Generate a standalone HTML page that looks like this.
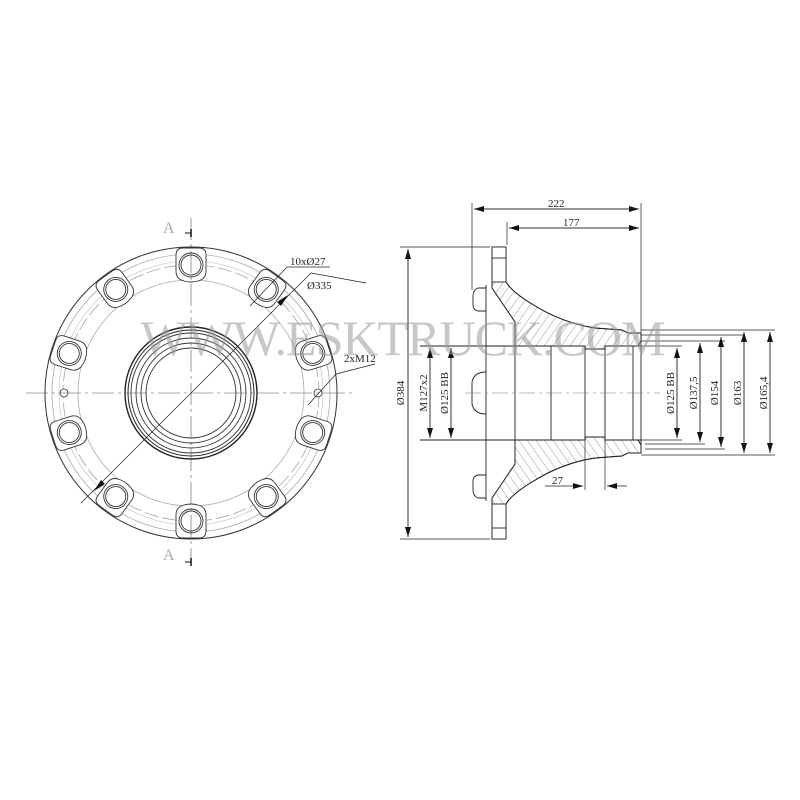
<!DOCTYPE html>
<html><head><meta charset="utf-8"><style>
html,body{margin:0;padding:0;background:#fff;}
svg{display:block;}
text{font-family:"Liberation Serif",serif;fill:#222;}
</style></head><body>
<svg width="800" height="800" viewBox="0 0 800 800" xmlns="http://www.w3.org/2000/svg">
<defs>
<pattern id="h" width="7" height="7" patternUnits="userSpaceOnUse" patternTransform="rotate(35)">
<line x1="0" y1="0" x2="0" y2="7" stroke="#555" stroke-width="0.6"/>
</pattern>
<marker id="a" markerWidth="10" markerHeight="6" refX="10" refY="3" orient="auto" markerUnits="userSpaceOnUse"><path d="M0,0 L10,3 L0,6 Z" fill="#111"/></marker>
<g id="boss">
<path d="M-15,-10 Q-15,-17 -8,-17 H8 Q15,-17 15,-10 V6 Q15,14 7,16 Q0,18 -7,16 Q-15,14 -15,6 Z" fill="#fff" stroke="#333" stroke-width="0.9"/>
<circle r="12" fill="none" stroke="#333" stroke-width="0.9"/>
<circle r="10" fill="none" stroke="#333" stroke-width="0.9"/>
</g>
</defs>

<!-- LEFT VIEW -->
<g transform="translate(191,393)">
<circle r="146" fill="none" stroke="#333" stroke-width="1"/>
<circle r="139" fill="none" stroke="#aaa" stroke-width="0.8"/>
<circle r="128" fill="none" stroke="#999" stroke-width="0.7" stroke-dasharray="14,4"/>
<circle r="113" fill="none" stroke="#aaa" stroke-width="0.8"/>
<circle r="132" fill="none" stroke="#bbb" stroke-width="0.6"/>
<use href="#boss" y="-128" transform="rotate(0)"/>
<use href="#boss" y="-128" transform="rotate(36)"/>
<use href="#boss" y="-128" transform="rotate(72)"/>
<use href="#boss" y="-128" transform="rotate(108)"/>
<use href="#boss" y="-128" transform="rotate(144)"/>
<use href="#boss" y="-128" transform="rotate(180)"/>
<use href="#boss" y="-128" transform="rotate(216)"/>
<use href="#boss" y="-128" transform="rotate(252)"/>
<use href="#boss" y="-128" transform="rotate(288)"/>
<use href="#boss" y="-128" transform="rotate(324)"/>
<circle cx="127" cy="0" r="4" fill="#fff" stroke="#333" stroke-width="0.8"/>
<circle cx="-127" cy="0" r="4" fill="#fff" stroke="#333" stroke-width="0.8"/>
<circle r="66" fill="#fff" stroke="#222" stroke-width="1.4"/>
<circle r="63" fill="none" stroke="#222" stroke-width="1"/>
<circle r="60" fill="none" stroke="#333" stroke-width="0.9"/>
<circle r="55" fill="none" stroke="#333" stroke-width="0.9"/>
<circle r="50" fill="none" stroke="#333" stroke-width="0.9"/>
<circle r="45" fill="none" stroke="#333" stroke-width="0.9"/>
<line x1="-165" y1="0" x2="165" y2="0" stroke="#555" stroke-width="0.6" stroke-dasharray="22,4,3,4"/>
<line x1="0" y1="-175" x2="0" y2="172" stroke="#555" stroke-width="0.6" stroke-dasharray="22,4,3,4"/>
<line x1="-110" y1="110" x2="120" y2="-120" stroke="#222" stroke-width="0.7"/>
<line x1="120" y1="-120" x2="175" y2="-110" stroke="#222" stroke-width="0.7"/>
<path d="M-97,98 l7,-11 l4,4 z M97,-98 l-7,11 l-4,-4 z" fill="#111"/>
</g>
<line x1="250" y1="306" x2="287" y2="267" stroke="#222" stroke-width="0.7"/>
<line x1="287" y1="267" x2="330" y2="267" stroke="#222" stroke-width="0.7"/>
<text x="290" y="265" font-size="11">10xØ27</text>
<text x="307" y="289" font-size="11">Ø335</text>
<line x1="308" y1="405" x2="336" y2="374" stroke="#222" stroke-width="0.7"/>
<line x1="336" y1="374" x2="375" y2="364" stroke="#222" stroke-width="0.7"/>
<text x="344" y="362" font-size="11">2xM12</text>
<text x="163" y="233" font-size="16" style="fill:#aaa">A</text>
<text x="163" y="560" font-size="16" style="fill:#aaa">A</text>
<line x1="185" y1="233" x2="191" y2="233" stroke="#111" stroke-width="1"/><line x1="191" y1="229" x2="191" y2="237" stroke="#111" stroke-width="1.5"/>
<line x1="185" y1="562" x2="191" y2="562" stroke="#111" stroke-width="1"/><line x1="191" y1="558" x2="191" y2="566" stroke="#111" stroke-width="1.5"/>

<!-- RIGHT VIEW -->
<g stroke="#222" stroke-width="0.9">
<g id="half">
<path d="M492,247 H506 V282 Q512,292 532,304 Q562,323 595,328 L622,330 L628,333 H641 V341 L638,346 H605 V349 H585 V346 H515 V322 L492,288 Z" fill="url(#h)"/>
<path d="M492,247 H506 V282 Q512,292 532,304 Q562,323 595,328 L622,330 L628,333 H641 V341 L638,346 H605 V349 H585 V346 H515 V322 L492,288 Z" fill="none"/>
<rect x="492" y="247" width="14" height="35" fill="#fff"/>
<line x1="492" y1="258" x2="506" y2="258"/>
<path d="M486,288 H478 Q473,290 473,296 V305 Q473,310 478,311 H486" fill="none"/>
<line x1="486" y1="285" x2="486" y2="393"/>
</g>
<use href="#half" transform="translate(0,786) scale(1,-1)"/>
<path d="M486,372 Q474,372 472,382 V404 Q474,414 486,414" fill="none"/>
<line x1="515" y1="322" x2="515" y2="464"/>
<line x1="551" y1="346" x2="551" y2="440"/>
<line x1="585" y1="346" x2="585" y2="440"/>
<line x1="605" y1="346" x2="605" y2="440"/>
<line x1="633" y1="346" x2="633" y2="440"/>
<line x1="641" y1="341" x2="641" y2="445"/>
<line x1="420" y1="346" x2="585" y2="346"/>
<line x1="605" y1="346" x2="641" y2="346"/>
<line x1="420" y1="440" x2="585" y2="440"/>
<line x1="605" y1="440" x2="641" y2="440"/>
</g>
<line x1="465" y1="393" x2="660" y2="393" stroke="#777" stroke-width="0.6" stroke-dasharray="16,4,3,4"/>

<g stroke="#222" stroke-width="0.7" fill="none">
<line x1="472" y1="203" x2="472" y2="290"/>
<line x1="507" y1="222" x2="507" y2="245"/>
<line x1="641" y1="203" x2="641" y2="335"/>
<line x1="474" y1="209" x2="639" y2="209" marker-end="url(#a)"/>
<line x1="639" y1="209" x2="474" y2="209" marker-end="url(#a)"/>
<line x1="509" y1="228" x2="639" y2="228" marker-end="url(#a)"/>
<line x1="639" y1="228" x2="509" y2="228" marker-end="url(#a)"/>
<line x1="400" y1="247" x2="490" y2="247"/>
<line x1="400" y1="539" x2="490" y2="539"/>
<line x1="408" y1="249" x2="408" y2="537" marker-end="url(#a)"/>
<line x1="408" y1="537" x2="408" y2="249" marker-end="url(#a)"/>
<line x1="430" y1="348" x2="430" y2="438" marker-end="url(#a)"/>
<line x1="430" y1="438" x2="430" y2="348" marker-end="url(#a)"/>
<line x1="451" y1="348" x2="451" y2="438" marker-end="url(#a)"/>
<line x1="451" y1="438" x2="451" y2="348" marker-end="url(#a)"/>
<line x1="641" y1="330" x2="775" y2="330"/>
<line x1="641" y1="335" x2="745" y2="335"/>
<line x1="641" y1="341" x2="725" y2="341"/>
<line x1="641" y1="346" x2="682" y2="346"/>
<line x1="641" y1="440" x2="682" y2="440"/>
<line x1="645" y1="444" x2="705" y2="444"/>
<line x1="645" y1="449" x2="725" y2="449"/>
<line x1="641" y1="455" x2="775" y2="455"/>
<line x1="677" y1="348" x2="677" y2="438" marker-end="url(#a)"/><line x1="677" y1="438" x2="677" y2="348" marker-end="url(#a)"/>
<line x1="700" y1="343" x2="700" y2="442" marker-end="url(#a)"/><line x1="700" y1="442" x2="700" y2="343" marker-end="url(#a)"/>
<line x1="721" y1="337" x2="721" y2="447" marker-end="url(#a)"/><line x1="721" y1="447" x2="721" y2="337" marker-end="url(#a)"/>
<line x1="744" y1="332" x2="744" y2="453" marker-end="url(#a)"/><line x1="744" y1="453" x2="744" y2="332" marker-end="url(#a)"/>
<line x1="770" y1="332" x2="770" y2="453" marker-end="url(#a)"/><line x1="770" y1="453" x2="770" y2="332" marker-end="url(#a)"/>
<line x1="585" y1="440" x2="585" y2="490"/>
<line x1="605" y1="440" x2="605" y2="490"/>
<line x1="545" y1="486" x2="583" y2="486" marker-end="url(#a)"/>
<line x1="627" y1="486" x2="607" y2="486" marker-end="url(#a)"/>
</g>
<text x="548" y="207" font-size="11">222</text>
<text x="563" y="226" font-size="11">177</text>
<text x="552" y="484" font-size="11">27</text>
<g font-size="11">
<text transform="translate(404,393) rotate(-90)" text-anchor="middle">Ø384</text>
<text transform="translate(427,393) rotate(-90)" text-anchor="middle">M127x2</text>
<text transform="translate(448,393) rotate(-90)" text-anchor="middle">Ø125 BB</text>
<text transform="translate(674,393) rotate(-90)" text-anchor="middle">Ø125 BB</text>
<text transform="translate(697,393) rotate(-90)" text-anchor="middle">Ø137,5</text>
<text transform="translate(718,393) rotate(-90)" text-anchor="middle">Ø154</text>
<text transform="translate(741,393) rotate(-90)" text-anchor="middle">Ø163</text>
<text transform="translate(767,393) rotate(-90)" text-anchor="middle">Ø165,4</text>
</g>
<text x="403" y="355" font-size="50" text-anchor="middle" textLength="525" style="fill:#999;fill-opacity:0.55">WWW.ESKTRUCK.COM</text>
</svg>
</body></html>
